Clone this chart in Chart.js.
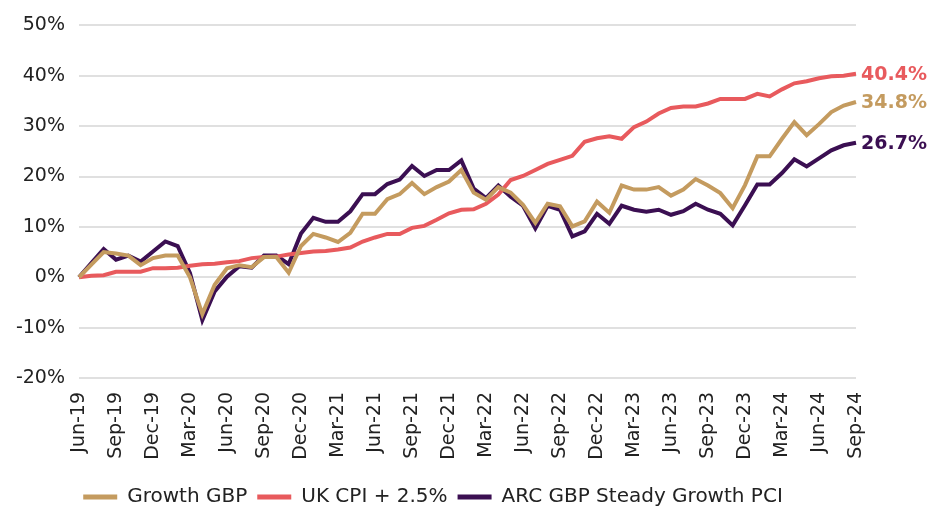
<!DOCTYPE html>
<html>
<head>
<meta charset="utf-8">
<script src="https://cdn.jsdelivr.net/npm/chart.js@4.4.1/dist/chart.umd.min.js"></script>
<style>
  body { margin: 0; background: #fff; }
  #wrap { width: 933px; height: 511px; position: relative; }
</style>
</head>
<body>
<div id="wrap"><canvas id="chart" width="933" height="511"></canvas></div>
<script>
const months = [
  "Jun-19","Jul-19","Aug-19","Sep-19","Oct-19","Nov-19","Dec-19","Jan-20","Feb-20","Mar-20","Apr-20","May-20",
  "Jun-20","Jul-20","Aug-20","Sep-20","Oct-20","Nov-20","Dec-20","Jan-21","Feb-21","Mar-21","Apr-21","May-21",
  "Jun-21","Jul-21","Aug-21","Sep-21","Oct-21","Nov-21","Dec-21","Jan-22","Feb-22","Mar-22","Apr-22","May-22",
  "Jun-22","Jul-22","Aug-22","Sep-22","Oct-22","Nov-22","Dec-22","Jan-23","Feb-23","Mar-23","Apr-23","May-23",
  "Jun-23","Jul-23","Aug-23","Sep-23","Oct-23","Nov-23","Dec-23","Jan-24","Feb-24","Mar-24","Apr-24","May-24",
  "Jun-24","Jul-24","Aug-24","Sep-24"
];

const growthGBP = [
  0, 2.5, 5.0, 4.7, 4.3, 2.4, 3.8, 4.3, 4.3, 0, -7.3, -1.5,
  1.8, 2.4, 2.0, 4.0, 4.0, 0.9, 6.2, 8.6, 7.9, 7.0, 8.8, 12.6,
  12.6, 15.5, 16.5, 18.7, 16.5, 17.9, 19.0, 21.3, 16.8, 15.4, 17.9, 16.8,
  14.4, 10.8, 14.6, 14.1, 10.1, 11.1, 15.0, 12.8, 18.2, 17.4, 17.4, 17.9,
  16.2, 17.4, 19.5, 18.2, 16.7, 13.7, 18.3, 24.0, 24.0, 27.5, 30.8, 28.2,
  30.4, 32.8, 34.1, 34.8
];

const ukCPI = [
  0, 0.3, 0.4, 1.1, 1.1, 1.1, 1.8, 1.8, 1.9, 2.3, 2.6, 2.7,
  3.0, 3.2, 3.8, 4.0, 4.1, 4.5, 4.8, 5.1, 5.2, 5.5, 5.9, 7.1,
  7.9, 8.6, 8.6, 9.8, 10.2, 11.4, 12.7, 13.4, 13.5, 14.6, 16.4, 19.3,
  20.1, 21.3, 22.5, 23.3, 24.1, 26.9, 27.6, 28.0, 27.5, 29.8, 30.9, 32.5,
  33.6, 33.9, 33.9, 34.5, 35.4, 35.4, 35.4, 36.4, 35.9, 37.3, 38.5, 38.9,
  39.5, 39.9, 40.0, 40.4
];

const arcSteady = [
  0, 2.8, 5.6, 3.5, 4.3, 3.1, 5.1, 7.1, 6.2, 0.8, -8.5, -2.8,
  0.1, 2.2, 1.9, 4.3, 4.3, 2.6, 8.7, 11.8, 11.0, 11.0, 13.1, 16.5,
  16.5, 18.5, 19.4, 22.1, 20.1, 21.3, 21.3, 23.2, 17.6, 15.7, 18.2, 16.0,
  14.2, 9.7, 14.2, 13.4, 8.1, 9.1, 12.6, 10.6, 14.2, 13.4, 13.0, 13.4,
  12.4, 13.1, 14.6, 13.4, 12.6, 10.3, 14.3, 18.4, 18.4, 20.7, 23.4, 22.0,
  23.6, 25.2, 26.2, 26.7
];

const seriesNames = ["Growth GBP", "UK CPI + 2.5%", "ARC GBP Steady Growth PCI"];
const seriesColors = ["#C49B5F", "#E85A5D", "#3B0F52"];

const FONT = "'DejaVu Sans', sans-serif";

// writes the last value next to the end of each line
const endLabels = {
  id: "endLabels",
  afterDatasetsDraw(chart) {
    const ctx = chart.ctx;
    ctx.save();
    ctx.font = "bold 19px " + FONT;
    ctx.textBaseline = "middle";
    chart.data.datasets.forEach((ds, i) => {
      const meta = chart.getDatasetMeta(i);
      const pt = meta.data[meta.data.length - 1];
      const v = ds.data[ds.data.length - 1];
      ctx.fillStyle = ds.borderColor;
      ctx.fillText(v.toFixed(1) + "%", pt.x + 5, pt.y + 1);
    });
    ctx.restore();
  }
};

new Chart(document.getElementById("chart"), {
  type: "line",
  data: {
    labels: months,
    datasets: [growthGBP, ukCPI, arcSteady].map((d, i) => ({
      label: seriesNames[i],
      data: d,
      borderColor: seriesColors[i],
      backgroundColor: seriesColors[i],
      borderWidth: 4,
      pointRadius: 0,
      tension: 0,
      borderJoinStyle: "miter"
    }))
  },
  options: {
    responsive: false,
    animation: false,
    layout: { padding: { top: 25, right: 77, left: 10, bottom: -6 } },
    plugins: {
      legend: {
        position: "bottom",
        labels: {
          color: "#222",
          font: { family: FONT, size: 20 },
          boxWidth: 34,
          boxHeight: 5,
          padding: 10,
          generateLabels: chart =>
            Chart.defaults.plugins.legend.labels.generateLabels(chart)
              .map(l => Object.assign(l, { lineWidth: 0 }))
        }
      },
      tooltip: { enabled: false }
    },
    scales: {
      y: {
        min: -20,
        max: 50,
        afterFit: s => { s.width = 69; },
        ticks: {
          stepSize: 10,
          color: "#222",
          font: { family: FONT, size: 19 },
          padding: 14,
          callback: v => v + "%"
        },
        grid: { color: "#e0e0e0", lineWidth: 2, drawTicks: false },
        border: { display: false }
      },
      x: {
        afterFit: s => { s.height = 99; },
        ticks: {
          autoSkip: false,
          maxRotation: 90,
          minRotation: 90,
          color: "#222",
          font: { family: FONT, size: 19 },
          padding: 6,
          callback: function (v, i) { return i % 3 === 0 ? months[i] : ""; }
        },
        grid: { display: false },
        border: { display: false }
      }
    }
  },
  plugins: [endLabels]
});
</script>
</body>
</html>
